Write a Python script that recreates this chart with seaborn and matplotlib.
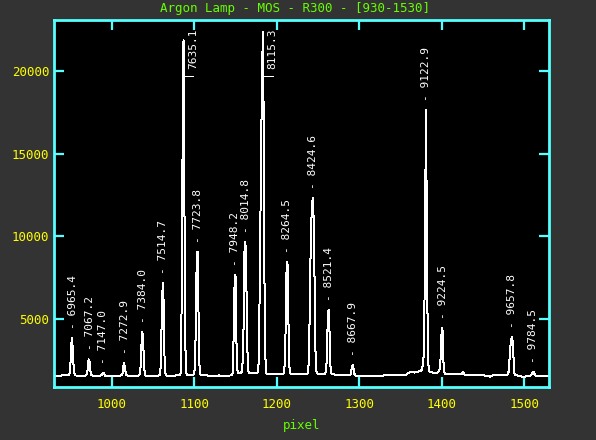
import pandas as pd
import matplotlib
matplotlib.use('Agg')
import matplotlib.pyplot as plt
import seaborn as sns

# spectrum (detector pixel, counts)
pixel = [930, 940, 947, 948, 949, 950, 951, 952, 953, 954, 955, 956, 962,
         969, 970, 971, 972, 973, 974, 975, 976, 982,
         987, 988, 989, 990, 991, 992, 1000, 1006,
         1011, 1012, 1013, 1014, 1015, 1016, 1017, 1018, 1026,
         1033, 1034, 1035, 1036, 1037, 1038, 1039, 1040, 1041, 1046, 1050, 1054,
         1057, 1058, 1059, 1060, 1061, 1062, 1063, 1064, 1065, 1066, 1072, 1078,
         1083, 1084, 1085, 1086, 1087, 1088, 1089, 1090, 1091, 1095,
         1099, 1100, 1101, 1102, 1103, 1104, 1105, 1106, 1107, 1108, 1115, 1122, 1130, 1138,
         1144, 1146, 1147, 1148, 1149, 1150, 1151, 1152, 1153, 1155, 1157,
         1158, 1159, 1160, 1161, 1162, 1163, 1164, 1165, 1166, 1168, 1172,
         1176, 1177, 1178, 1179, 1180, 1181, 1182, 1183, 1184, 1185, 1186, 1187, 1188, 1195, 1202,
         1208, 1209, 1210, 1211, 1212, 1213, 1214, 1215, 1216, 1217, 1225, 1232,
         1237, 1238, 1239, 1240, 1241, 1242, 1243, 1244, 1245, 1246, 1247, 1248, 1249, 1254,
         1258, 1259, 1260, 1261, 1262, 1263, 1264, 1265, 1266, 1267, 1275, 1283,
         1289, 1290, 1291, 1292, 1293, 1294, 1295, 1305, 1320, 1335, 1350,
         1357, 1359, 1361, 1364, 1367, 1370, 1374,
         1376, 1377, 1378, 1379, 1380, 1381, 1382, 1383, 1384, 1385, 1386, 1390, 1395,
         1397, 1398, 1399, 1400, 1401, 1402, 1403, 1404, 1410, 1418,
         1424, 1426, 1428, 1440, 1452, 1459, 1462, 1470, 1478,
         1480, 1481, 1482, 1483, 1484, 1485, 1486, 1487, 1488, 1489, 1495, 1499, 1503,
         1507, 1509, 1511, 1512, 1514, 1522, 1530]
counts = [1570, 1580, 1580, 1600, 1700, 2350, 3500, 3830, 2900, 1900, 1650, 1580, 1570,
          1580, 1680, 2000, 2560, 2450, 1900, 1650, 1580, 1570,
          1580, 1620, 1700, 1750, 1650, 1560, 1550, 1570,
          1580, 1600, 1700, 2100, 2320, 2000, 1700, 1580, 1570,
          1580, 1650, 2100, 3400, 4230, 3900, 2300, 1700, 1560, 1530, 1560, 1540,
          1580, 1620, 1800, 3500, 6200, 7160, 5800, 2600, 1700, 1580, 1570, 1580,
          1600, 1900, 8000, 16700, 21870, 12400, 4000, 1800, 1620, 1600,
          1620, 1700, 2200, 5000, 8800, 9070, 6000, 2500, 1700, 1600, 1580, 1570, 1580, 1570,
          1580, 1620, 1800, 4900, 7400, 7660, 4000, 1950, 1750, 1720, 1750,
          1900, 2700, 5000, 9400, 9670, 8000, 4200, 2000, 1750, 1720, 1710,
          1720, 1800, 2300, 5500, 9400, 16100, 17900, 22370, 18000, 8000, 3000, 1750, 1650, 1640, 1650,
          1660, 1750, 2600, 5000, 8400, 8465, 5500, 2400, 1750, 1660, 1650, 1660,
          1680, 1800, 2600, 5500, 8900, 11000, 12100, 12300, 10500, 6500, 3000, 1850, 1700, 1660,
          1680, 1750, 1900, 3200, 5400, 5544, 4200, 2200, 1750, 1650, 1620, 1610,
          1620, 1700, 2050, 2220, 2000, 1700, 1580, 1560, 1570, 1580, 1590,
          1600, 1750, 1760, 1780, 1760, 1800, 1850,
          1920, 2200, 2700, 5360, 12300, 17640, 9780, 3850, 2100, 1850, 1780, 1750, 1760,
          1850, 2100, 3000, 4440, 4300, 2500, 1800, 1680, 1670, 1650,
          1640, 1814, 1620, 1600, 1580, 1510, 1580, 1600, 1620,
          1650, 1800, 2400, 3200, 3700, 3930, 3600, 2600, 1700, 1600, 1560, 1480, 1540,
          1560, 1650, 1814, 1700, 1560, 1560, 1560]

# identified arc lines
line_pixel = [952.5, 973.5, 990, 1015.5, 1037.5, 1062, 1087, 1104.5, 1150, 1162.5,
              1183, 1213, 1244, 1263.5, 1292, 1381, 1401, 1485.5, 1511]
line_label = ['6965.4', '7067.2', '7147.0', '7272.9', '7384.0', '7514.7', '7635.1',
              '7723.8', '7948.2', '8014.8', '8115.3', '8264.5', '8424.6', '8521.4',
              '8667.9', '9122.9', '9224.5', '9657.8', '9784.5']
top_labels = ['7635.1', '8115.3']

x_ticks = [1000, 1100, 1200, 1300, 1400, 1500]
y_ticks = [5000, 10000, 15000, 20000]

bg = '#333333'
cyan = '#55ffff'
yellow = '#ffff00'
green = '#66ff00'

sns.set_theme(style='ticks')
plt.rcParams['font.family'] = 'DejaVu Sans Mono'

fig = plt.figure(figsize=(5.96, 4.40), dpi=100, facecolor=bg)
ax = fig.add_axes([0.0906, 0.1211, 0.8305, 0.8334])
ax.set_facecolor('black')

df = pd.DataFrame({'pixel': pixel, 'counts': counts})
sns.lineplot(data=df, x='pixel', y='counts', color='white', lw=0.72,
             estimator=None, antialiased=False, ax=ax)

ax.set_xlim(930, 1530)
ax.set_ylim(900, 23100)
ax.set_xticks(x_ticks)
ax.set_yticks(y_ticks)
for s in ax.spines.values():
    s.set_color(cyan)
    s.set_linewidth(2)
ax.tick_params(direction='in', length=7.5, width=1.6, color=cyan,
               labelcolor=yellow, labelsize=9, top=True, right=True)
ax.tick_params(axis='x', pad=8)
ax.tick_params(axis='y', pad=3.5)

ax.set_ylabel('')
ax.set_xlabel('pixel', color=green, fontsize=9)
ax.xaxis.set_label_coords(0.5, -0.1045)
ax.xaxis.label.set_va('center')

fig.text(0.495, 0.98, 'Argon Lamp - MOS - R300 - [930-1530]', color=green,
         fontsize=9, ha='center', va='center')

for px, lab in zip(line_pixel, line_label):
    near = df[(df.pixel >= px - 2) & (df.pixel <= px + 2)]
    peak = near.counts.max()
    if lab in top_labels:
        foot = 19700
        ax.plot([px, px, px + 12], [peak, foot, foot], color='white', lw=0.72,
                antialiased=False)
        ax.annotate(lab, xy=(px + 12, foot), xytext=(0, 5), textcoords='offset points',
                    rotation=90, ha='center', va='bottom', color='white', fontsize=8)
    else:
        ax.annotate('- ' + lab, xy=(px, peak), xytext=(0, 6.5), textcoords='offset points',
                    rotation=90, ha='center', va='bottom', color='white', fontsize=8)

fig.savefig('out.png', dpi=100, facecolor=bg)
